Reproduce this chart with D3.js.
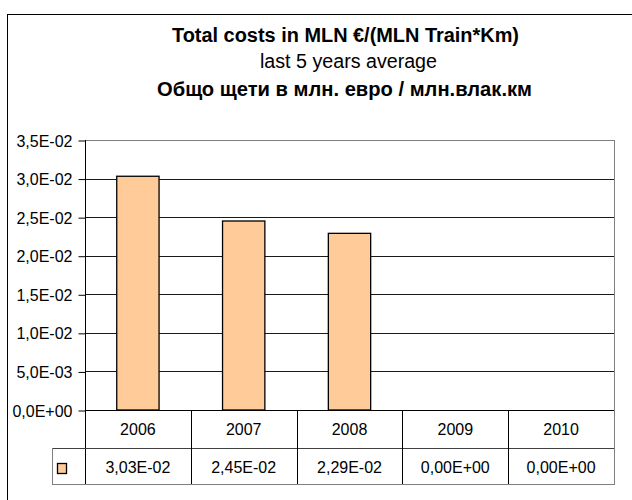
<!DOCTYPE html>
<html>
<head>
<meta charset="utf-8">
<script src="https://cdn.jsdelivr.net/npm/d3@7"></script>
<style>
  html, body { margin: 0; padding: 0; background: #fff; }
  svg { display: block; }
  text { font-family: "Liberation Sans", Arial, sans-serif; fill: #000; }
</style>
</head>
<body>
<svg id="chart" width="632" height="500"></svg>
<script>
const years = ["2006", "2007", "2008", "2009", "2010"];
const values = [0.0303, 0.0245, 0.0229, 0, 0];
const yTicks = [0, 0.005, 0.01, 0.015, 0.02, 0.025, 0.03, 0.035];
const titleLines = [
  "Total costs in MLN €/(MLN Train*Km)",
  "last 5 years average",
  "Общо щети в млн. евро / млн.влак.км"
];

const svg = d3.select("#chart");
const plot = { left: 85, right: 614, top: 140, bottom: 410 };
const rowCat = 448, rowVal = 484, legendLeft = 52;
const FS = 16;

function sci(v, digits) {
  const s = v.toExponential(digits);
  const [m, e] = s.split("e");
  const sign = e[0] === "-" ? "-" : "+";
  const ex = e.replace(/^[+-]/, "").padStart(2, "0");
  return m.replace(".", ",") + "E" + sign + ex;
}

// outer frame
svg.append("rect")
  .attr("x", 7.5).attr("y", 14.5)
  .attr("width", 630).attr("height", 495)
  .attr("fill", "none").attr("stroke", "#000").attr("stroke-width", 1);

// titles
svg.append("text").attr("x", 345.5).attr("y", 41.5)
  .attr("text-anchor", "middle").attr("font-weight", "bold").attr("font-size", 19.5)
  .attr("textLength", 347).attr("lengthAdjust", "spacingAndGlyphs")
  .text(titleLines[0]);
svg.append("text").attr("x", 348.5).attr("y", 68)
  .attr("text-anchor", "middle").attr("font-size", 19.5)
  .attr("textLength", 177).attr("lengthAdjust", "spacingAndGlyphs")
  .text(titleLines[1]);
svg.append("text").attr("x", 344.5).attr("y", 96)
  .attr("text-anchor", "middle").attr("font-weight", "bold").attr("font-size", 19.5)
  .attr("textLength", 375).attr("lengthAdjust", "spacingAndGlyphs")
  .text(titleLines[2]);

const x = d3.scaleBand().domain(years).range([plot.left, plot.right]).padding(0);
const y = d3.scaleLinear().domain([0, 0.035]).range([plot.bottom, plot.top]);

// gridlines
svg.append("g").selectAll("line").data(yTicks.filter(t => t > 0)).join("line")
  .attr("x1", plot.left).attr("x2", plot.right)
  .attr("y1", d => Math.round(y(d)) + 0.5).attr("y2", d => Math.round(y(d)) + 0.5)
  .attr("stroke", d => d === 0.035 ? "#808080" : "#1a1a1a").attr("stroke-width", 1);

// right border of plot
svg.append("line").attr("x1", plot.right + 0.5).attr("x2", plot.right + 0.5)
  .attr("y1", plot.top).attr("y2", plot.bottom)
  .attr("stroke", "#808080");

// bars
const bw = x.bandwidth() / 2.5;
svg.append("g").selectAll("rect").data(values).join("rect")
  .attr("x", (d, i) => x(years[i]) + (x.bandwidth() - bw) / 2)
  .attr("y", d => y(d))
  .attr("width", bw)
  .attr("height", d => y(0) - y(d))
  .attr("fill", "#FFCC99").attr("stroke", "#000").attr("stroke-width", 1.3)
  .style("display", d => d > 0 ? null : "none");

// y axis
const yAxis = d3.axisLeft(y).tickValues(yTicks).tickSize(7).tickPadding(6)
  .tickFormat(d => sci(d, 1));
const ga = svg.append("g").attr("transform", `translate(${plot.left + 0.5},0.5)`).call(yAxis);
ga.select(".domain").remove();
ga.selectAll(".tick line").attr("stroke", "#000");
ga.selectAll(".tick text").attr("font-size", FS).attr("dy", "0.35em")
  .attr("font-family", "Liberation Sans, Arial, sans-serif").attr("fill", "#000");
svg.append("line").attr("x1", plot.left + 0.5).attr("x2", plot.left + 0.5)
  .attr("y1", plot.top).attr("y2", rowVal).attr("stroke", "#000");

// data table
const tbl = svg.append("g");
tbl.append("line").attr("x1", plot.left).attr("x2", plot.right + 1)
  .attr("y1", plot.bottom + 0.5).attr("y2", plot.bottom + 0.5).attr("stroke", "#000");
tbl.append("line").attr("x1", legendLeft).attr("x2", plot.right + 1)
  .attr("y1", rowCat + 0.5).attr("y2", rowCat + 0.5).attr("stroke", "#404040");
tbl.append("line").attr("x1", legendLeft).attr("x2", plot.right + 1)
  .attr("y1", rowVal + 0.5).attr("y2", rowVal + 0.5).attr("stroke", "#808080");
tbl.append("line").attr("x1", legendLeft + 0.5).attr("x2", legendLeft + 0.5)
  .attr("y1", rowCat).attr("y2", rowVal).attr("stroke", "#808080");
tbl.append("line").attr("x1", plot.right + 0.5).attr("x2", plot.right + 0.5)
  .attr("y1", plot.bottom).attr("y2", rowVal + 1).attr("stroke", "#808080");
tbl.selectAll("line.div").data(years.slice(1)).join("line").attr("class", "div")
  .attr("x1", d => Math.round(x(d)) + 0.5).attr("x2", d => Math.round(x(d)) + 0.5)
  .attr("y1", plot.bottom).attr("y2", rowVal).attr("stroke", "#000");
tbl.selectAll("text.cat").data(years).join("text").attr("class", "cat")
  .attr("x", d => x(d) + x.bandwidth() / 2).attr("y", (plot.bottom + rowCat) / 2 + 6)
  .attr("text-anchor", "middle").attr("font-size", FS).text(d => d);
tbl.selectAll("text.val").data(values).join("text").attr("class", "val")
  .attr("x", (d, i) => x(years[i]) + x.bandwidth() / 2).attr("y", (rowCat + rowVal) / 2 + 6.5)
  .attr("text-anchor", "middle").attr("font-size", FS).text(d => sci(d, 2));
tbl.append("rect").attr("x", 57.5).attr("y", 463.5).attr("width", 9).attr("height", 10)
  .attr("fill", "#FFCC99").attr("stroke", "#000").attr("stroke-width", 1.3);
</script>
</body>
</html>
